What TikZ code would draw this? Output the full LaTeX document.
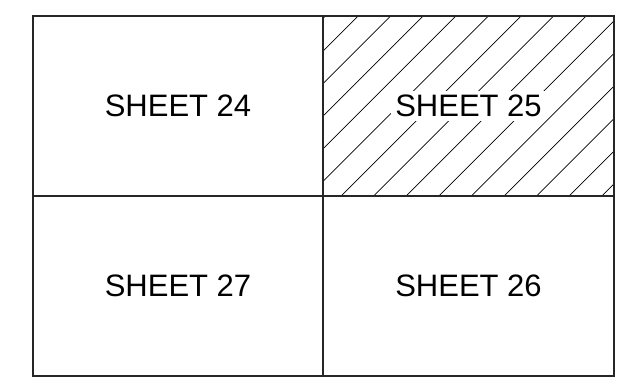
\documentclass[tikz,border=0pt]{standalone}
\usepackage{fontspec}
\setmainfont{Liberation Sans}
\usetikzlibrary{calc, positioning}

\begin{document}
\begin{tikzpicture}[x=1pt, y=-1pt,
    frame/.style={line width=1.1pt, black!85},
    hatch/.style={line width=0.7pt, black},
    sheettext/.style={font=\fontsize{31}{31}\selectfont, fill=white, inner sep=4pt}]

    \useasboundingbox (0,0) rectangle (621,381);

    % =================================================================
    % 1. HATCHING OF SHEET 25
    % =================================================================
    \begin{scope}
        \clip (323,16) rectangle (614,196);
        \foreach \k in {-6,...,8} {
            \pgfmathsetmacro\c{537+32.6*\k}
            \draw[hatch] ({\c-16},16) -- ({\c-196},196);
        }
    \end{scope}

    % =================================================================
    % 2. SHEET NAMES
    % =================================================================
    \node[sheettext] (sheet24) at (178,106) {SHEET 24};
    \node[sheettext] (sheet25) at (468.5,106) {SHEET 25};
    \node[sheettext] (sheet27) at (178,286) {SHEET 27};
    \node[sheettext] (sheet26) at (468.5,286) {SHEET 26};

    % =================================================================
    % 3. GRID OF SHEETS
    % =================================================================
    \coordinate (tl) at (33,16);
    \coordinate (br) at (614,376);
    \coordinate (midtop) at (323,16);
    \coordinate (midbot) at (323,376);
    \coordinate (midleft) at (33,196);
    \coordinate (midright) at (614,196);

    \draw[frame] (tl) rectangle (br);
    \draw[frame] (midtop) -- (midbot);
    \draw[frame] (midleft) -- (midright);

\end{tikzpicture}
\end{document}
